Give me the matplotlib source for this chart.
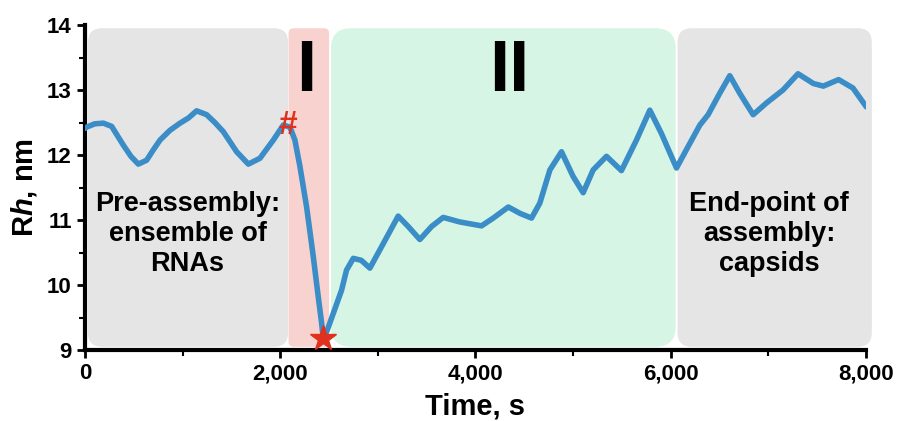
import numpy as np
import matplotlib.pyplot as plt
from matplotlib.patches import FancyBboxPatch

plt.rcParams['font.family'] = ['Liberation Sans', 'DejaVu Sans']
plt.rcParams['font.weight'] = 'bold'
plt.rcParams['axes.labelweight'] = 'bold'
plt.rcParams['mathtext.fontset'] = 'custom'
plt.rcParams['mathtext.bfit'] = 'Liberation Sans:italic:bold'

# Rh trace (time in s, Rh in nm)
time_s = [0, 17, 100, 188, 273, 393, 470, 546, 631, 700, 768, 870, 973, 1060, 1143, 1246,
          1330, 1416, 1553, 1673, 1792, 1929, 2031, 2099, 2150, 2202, 2270, 2338, 2389, 2424,
          2440, 2480, 2540, 2628, 2679, 2748, 2830, 2918, 3038, 3208, 3311, 3430, 3550, 3669,
          3840, 4062, 4182, 4336, 4459, 4574, 4659, 4762, 4881, 5000, 5103, 5205, 5342, 5495,
          5649, 5786, 5905, 6059, 6178, 6298, 6383, 6502, 6605, 6707, 6844, 6980, 7150, 7304,
          7461, 7563, 7720, 7867, 8004]
rh_nm = [12.41, 12.43, 12.48, 12.49, 12.44, 12.15, 11.98, 11.86, 11.92, 12.08, 12.23, 12.38,
         12.49, 12.57, 12.68, 12.62, 12.50, 12.36, 12.05, 11.86, 11.95, 12.23, 12.46, 12.43,
         12.23, 11.82, 11.20, 10.44, 9.82, 9.41, 9.18, 9.30, 9.55, 9.92, 10.23, 10.41, 10.38,
         10.26, 10.59, 11.06, 10.90, 10.70, 10.90, 11.04, 10.97, 10.91, 11.03, 11.20, 11.10,
         11.03, 11.26, 11.77, 12.05, 11.67, 11.42, 11.77, 11.98, 11.76, 12.23, 12.69, 12.33,
         11.80, 12.13, 12.46, 12.62, 12.95, 13.22, 12.95, 12.62, 12.80, 13.00, 13.25, 13.10,
         13.06, 13.16, 13.03, 12.74]

# phase regions: (start, end, colour, rounding in px)
phases = [(30, 2080, '#e5e5e5', 14),
          (2085, 2500, '#f8d2cf', 5),
          (2520, 6050, '#d6f5e4', 20),
          (6070, 8060, '#e5e5e5', 14)]
region_lo, region_hi = 9.05, 13.95

start_pt = (2099, 12.43)
end_pt = (2440, 9.18)

fig = plt.figure(figsize=(8.97, 4.21), dpi=100)
ax = fig.add_axes([0.0948, 0.1686, 0.8706, 0.772])
ax.set_xlim(0, 8000)
ax.set_ylim(9, 14)

# px -> data factors for rounded corners
xpp = 8000 / (0.8706 * 897)
ypp = 5 / (0.772 * 421)
for x0, x1, col, r in phases:
    box = FancyBboxPatch((x0, region_lo), x1 - x0, region_hi - region_lo,
                         boxstyle='round,pad=0,rounding_size=%f' % (r * xpp),
                         mutation_aspect=ypp / xpp, fc=col, ec='none',
                         clip_on=False, zorder=0)
    ax.add_patch(box)

ax.plot(time_s, rh_nm, color='#3a8dc6', lw=4, solid_joinstyle='round',
        solid_capstyle='round', zorder=3)
ax.text(start_pt[0] - 25, start_pt[1] + 0.02, '#', color='#e0301e', fontsize=24,
        ha='center', va='center', zorder=4)
ax.plot(*end_pt, marker='*', color='#e0301e', ms=19, mec='#e0301e', zorder=4,
        clip_on=False)

ax.text(1050, 10.78, 'Pre-assembly:\nensemble of\nRNAs', ha='center', va='center',
        fontsize=19.5, linespacing=1.2)
ax.text(7010, 10.78, 'End-point of\nassembly:\ncapsids', ha='center', va='center',
        fontsize=19.5, linespacing=1.2)
ax.text(2270, 13.28, 'I', ha='center', va='center', fontsize=52)
ax.text(4350, 13.28, 'II', ha='center', va='center', fontsize=52)

ax.set_xticks([0, 2000, 4000, 6000, 8000])
ax.set_xticklabels(['0', '2,000', '4,000', '6,000', '8,000'])
ax.set_xticks([1000, 3000, 5000, 7000], minor=True)
ax.set_yticks([9, 10, 11, 12, 13, 14])
ax.set_yticks(np.arange(9.5, 14, 1.0), minor=True)
ax.tick_params(which='major', direction='out', length=6, width=2, labelsize=16)
ax.tick_params(which='minor', direction='out', length=4, width=1.5)
for s in ['top', 'right']:
    ax.spines[s].set_visible(False)
for s in ['left', 'bottom']:
    ax.spines[s].set_linewidth(3)

ax.set_xlabel('Time, s', fontsize=21, labelpad=6)
ax.set_ylabel(r'R$\mathbfit{h}$, nm', fontsize=21, labelpad=6)

fig.savefig('out.png', dpi=100)
